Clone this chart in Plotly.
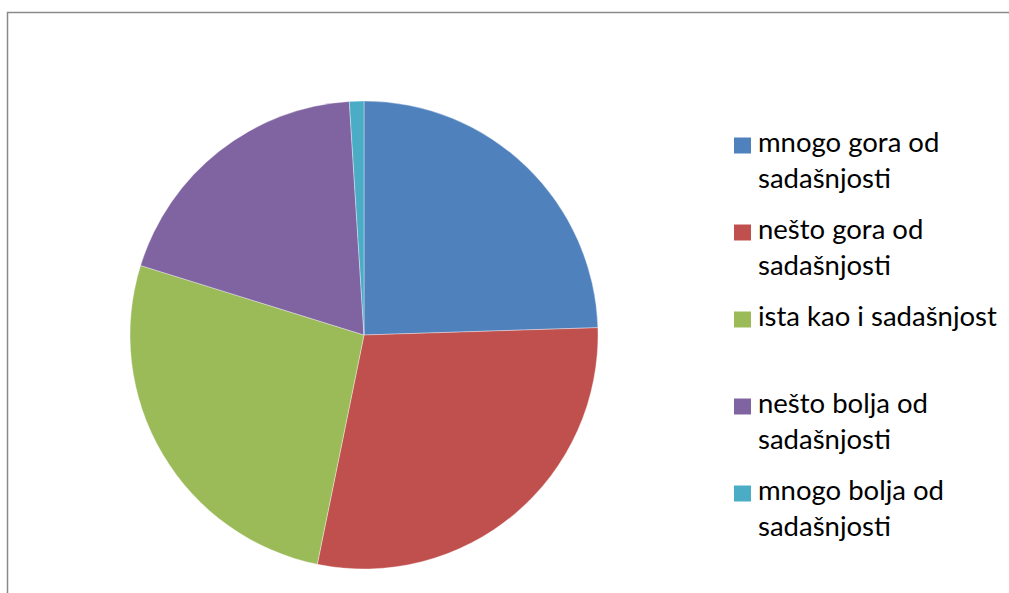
import plotly.graph_objects as go

categories = ["mnogo gora od sadašnjosti", "nešto gora od sadašnjosti",
              "ista kao i sadašnjost", "nešto bolja od sadašnjosti",
              "mnogo bolja od sadašnjosti"]
legend_labels = ["mnogo gora od<br>sadašnjosti", "nešto gora od<br>sadašnjosti",
                 "ista kao i sadašnjost", "nešto bolja od<br>sadašnjosti",
                 "mnogo bolja od<br>sadašnjosti"]
values = [24.5, 28.7, 26.6, 19.2, 1.0]
colors = ["#4F81BD", "#C0504D", "#9BBB59", "#8064A2", "#4BACC6"]

W, H = 1009, 593
cx, cy, r = 364, 335, 234

fig = go.Figure(go.Pie(
    labels=categories, values=values, sort=False, direction="clockwise",
    rotation=0, textinfo="none", hoverinfo="label+percent",
    marker=dict(colors=colors, line=dict(color="rgba(255,255,255,0.6)", width=0.6)),
    domain=dict(x=[(cx - r) / W, (cx + r) / W], y=[(H - cy - r) / H, (H - cy + r) / H]),
    showlegend=False,
))

shapes = [dict(type="rect", xref="paper", yref="paper",
               x0=7.5 / W, x1=1.02, y0=-0.05, y1=(H - 12.5) / H,
               line=dict(color="#8a8a8a", width=1.5), fillcolor="rgba(0,0,0,0)")]
annotations = []
item_y = [145.5, 232.5, 319.5, 406.5, 493.5]
for lab, col, yc in zip(legend_labels, colors, item_y):
    shapes.append(dict(type="rect", xref="paper", yref="paper",
                       x0=734 / W, x1=751 / W, y0=(H - yc - 8) / H, y1=(H - yc + 8) / H,
                       line=dict(width=0), fillcolor=col))
    annotations.append(dict(xref="paper", yref="paper", x=756 / W, y=(H - yc + 23) / H,
                            xanchor="left", yanchor="top", align="left", showarrow=False,
                            text=lab, font=dict(family="Lato", size=27.5, color="#000000")))

fig.update_layout(width=W, height=H, margin=dict(l=0, r=0, t=0, b=0),
                  paper_bgcolor="white", plot_bgcolor="white",
                  shapes=shapes, annotations=annotations)
fig.write_html("out.html", config={"displayModeBar": False},
               post_script="document.documentElement.style.overflow='hidden';"
                           "document.body.style.margin='0';"
                           "document.body.style.overflow='hidden';")
